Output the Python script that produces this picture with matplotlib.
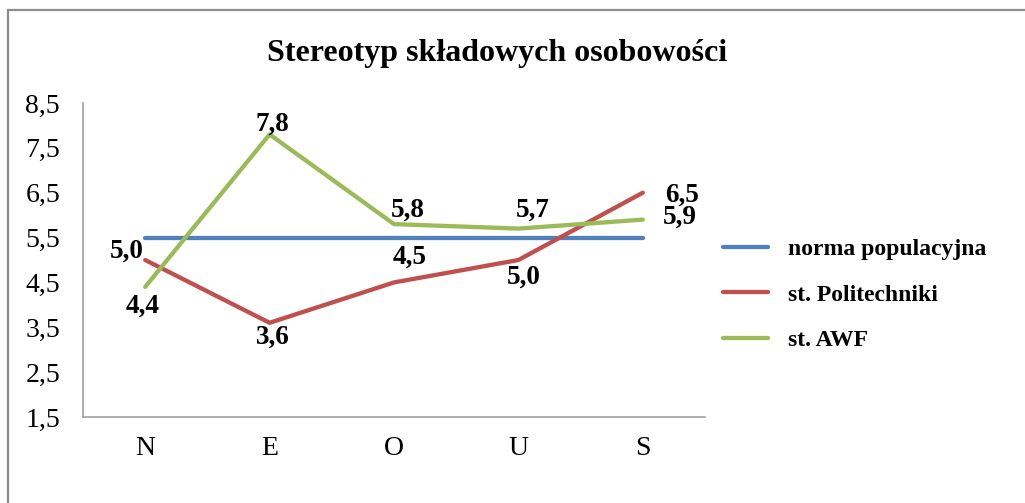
import matplotlib
matplotlib.use("Agg")
import matplotlib.pyplot as plt
from matplotlib.patches import Rectangle

categories = ["N", "E", "O", "U", "S"]
norma = [5.5, 5.5, 5.5, 5.5, 5.5]
politechnika = [5.0, 3.6, 4.5, 5.0, 6.5]
awf = [4.4, 7.8, 5.8, 5.7, 5.9]
yticks = [1.5, 2.5, 3.5, 4.5, 5.5, 6.5, 7.5, 8.5]
series_names = ["norma populacyjna", "st. Politechniki", "st. AWF"]
colors = ["#4F81BD", "#C0504D", "#9BBB59"]

plt.rcParams['font.family'] = ['Liberation Serif', 'DejaVu Serif']

W, H = 1025, 503
fig = plt.figure(figsize=(W / 100, H / 100), dpi=100)
fig.patch.set_facecolor("white")

# outer chart-area border
fig.add_artist(Rectangle((8 / W, -0.05), 1.1, 1 - 10 / H + 0.05, transform=fig.transFigure,
                         fill=False, edgecolor="#8c8c8c", linewidth=1.6))

ax = fig.add_axes([83 / W, 1 - 417 / H, (705 - 83) / W, (417 - 103) / H])
x = list(range(len(categories)))
lw = 3.1
ax.plot(x, norma, color=colors[0], lw=lw, solid_capstyle="round", label=series_names[0])
ax.plot(x, politechnika, color=colors[1], lw=lw, solid_capstyle="round", label=series_names[1])
ax.plot(x, awf, color=colors[2], lw=lw, solid_capstyle="round", label=series_names[2])

ax.set_xlim(-0.5, len(categories) - 0.5)
ax.set_ylim(1.5, 8.5)
ax.set_yticks(yticks)
ax.set_yticklabels([f"{v:.1f}".replace(".", ",") for v in yticks], fontsize=20)
ax.set_xticks(x)
ax.set_xticklabels(categories, fontsize=20)
ax.tick_params(axis="y", length=0, pad=16.5)
ax.tick_params(axis="x", length=0, pad=14)
for s in ["top", "right"]:
    ax.spines[s].set_visible(False)
for s in ["left", "bottom"]:
    ax.spines[s].set_color("#a0a0a0")
    ax.spines[s].set_linewidth(1.2)

def fmt(v):
    return f"{v:.1f}".replace(".", ",")

lab_kw = dict(fontsize=19.5, fontweight="bold", textcoords="offset points")
# Politechniki labels
pol_off = [(-13, 6.5), (2, -10), (11, 18), (4, -12.5), (28, -1.5)]
for i, v in enumerate(politechnika):
    ax.annotate(fmt(v), (x[i], v), xytext=pol_off[i], ha="center", va="center", **lab_kw)
# AWF labels
awf_off = [(-2, -14), (2, 7.5), (10, 10), (10, 13), (27, 1.5)]
for i, v in enumerate(awf):
    ax.annotate(fmt(v), (x[i], v), xytext=awf_off[i], ha="center", va="center", **lab_kw)

fig.text(497 / W, 1 - 53 / H, "Stereotyp składowych osobowości", ha="center", va="center",
         fontsize=23, fontweight="bold")

leg = fig.legend(loc="upper left", bbox_to_anchor=(702 / W, 1 - 217 / H), frameon=False,
                 prop={"size": 17, "weight": "bold"}, handlelength=1.9, handletextpad=0.85,
                 labelspacing=1.03)

fig.savefig("out.png", dpi=100)
